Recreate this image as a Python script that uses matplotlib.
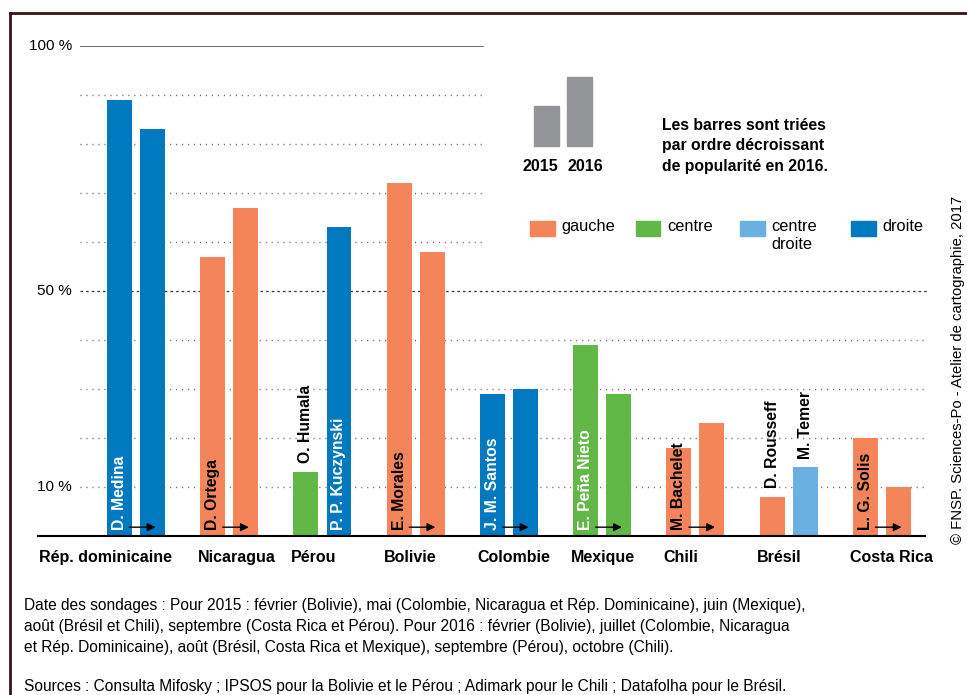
import matplotlib.pyplot as plt
from matplotlib.patches import Rectangle

plt.rcParams['font.family'] = ['Liberation Sans', 'DejaVu Sans']

# data (popularity in %)
countries = ['Rép. dominicaine', 'Nicaragua', 'Pérou', 'Bolivie', 'Colombie',
             'Mexique', 'Chili', 'Brésil', 'Costa Rica']
pop_2015 = [89, 57, 13, 72, 29, 39, 18, 8, 20]
pop_2016 = [83, 67, 63, 58, 30, 29, 23, 14, 10]
side_2015 = ['droite', 'gauche', 'centre', 'gauche', 'droite', 'centre', 'gauche', 'gauche', 'gauche']
side_2016 = ['droite', 'gauche', 'droite', 'gauche', 'droite', 'centre', 'gauche', 'centre droite', 'gauche']
# leader names: (text, which bar, inside/above)
leaders = [('D. Medina', 0, 'in'), ('D. Ortega', 0, 'in'), ('O. Humala', 0, 'above'),
           ('P. P. Kuczynski', 1, 'in'), ('E. Morales', 0, 'in'), ('J. M. Santos', 0, 'in'),
           ('E. Peña Nieto', 0, 'in'), ('M. Bachelet', 0, 'in'), ('D. Rousseff', 0, 'above'),
           ('M. Temer', 1, 'above'), ('L. G. Solis', 0, 'in')]
leader_country = [0, 1, 2, 2, 3, 4, 5, 6, 7, 7, 8]
same_leader = [True, True, False, True, True, True, True, False, True]

colors = {'gauche': '#F4845A', 'centre': '#62B847', 'centre droite': '#6AB0E0', 'droite': '#0079C1'}
text_on = {'gauche': 'black', 'centre': 'white', 'centre droite': 'black', 'droite': 'white'}

fig = plt.figure(figsize=(9.67, 6.95), dpi=100)

# frame (top and left edges only are visible)
fig.add_artist(plt.Line2D([10 / 967, 1], [1 - 13 / 695, 1 - 13 / 695], color='#3A1416', lw=2))
fig.add_artist(plt.Line2D([10 / 967, 10 / 967], [0, 1 - 13 / 695], color='#3A1416', lw=2))

ax = fig.add_axes([80 / 967, (695 - 536) / 695, 850 / 967, 490 / 695])
ax.set_xlim(-0.6005, 8.515)
ax.set_ylim(0, 100)
ax.axis('off')

# grid
trans = ax.get_yaxis_transform()
for v in [60, 70, 80, 90]:
    ax.plot([0, 0.474], [v, v], transform=trans, color='#666666', lw=1.0,
            ls=(0, (0.8, 3.5)), zorder=1)
for v in [10, 20, 30, 40]:
    ax.plot([0, 0.998], [v, v], transform=trans, color='#666666', lw=1.0,
            ls=(0, (0.8, 3.5)), zorder=1)
ax.plot([0, 0.998], [50, 50], transform=trans, color='#333333', lw=0.9,
        ls=(0, (2, 2.5)), zorder=1)
ax.plot([0, 0.474], [100, 100], transform=trans, color='#555555', lw=1.2, zorder=1)
ax.plot([-0.049, 0.994], [0, 0], transform=trans, color='black', lw=1.5, zorder=3, clip_on=False)

for v in [100, 50, 10]:
    ax.text(-0.0094, v, f'{v} %', transform=trans, ha='right', va='center', fontsize=11)

w = 0.268
off = 0.177
x = list(range(len(countries)))
ax.bar([i - off for i in x], pop_2015, width=w, color=[colors[s] for s in side_2015], zorder=2)
ax.bar([i + off for i in x], pop_2016, width=w, color=[colors[s] for s in side_2016], zorder=2)

# country names
for i, c in enumerate(countries):
    if i == 0:
        ax.text(i + off + w / 2 + 0.075, -4.3, c, ha='right', va='center', fontsize=11.5, fontweight='bold')
    else:
        ax.text(i - off - w / 2 - 0.03, -4.3, c, ha='left', va='center', fontsize=11.5, fontweight='bold')

# leader names
for (name, b, where), ci in zip(leaders, leader_country):
    xi = ci - off if b == 0 else ci + off
    side = side_2015[ci] if b == 0 else side_2016[ci]
    val = pop_2015[ci] if b == 0 else pop_2016[ci]
    if where == 'in':
        ax.text(xi, 1.2, name, rotation=90, ha='center', va='bottom', fontsize=11.3,
                fontweight='bold', color=text_on[side], zorder=4)
    else:
        ax.text(xi, val + 1.8, name, rotation=90, ha='center', va='bottom', fontsize=11.3,
                fontweight='bold', color='black', zorder=4)

# arrows when the leader stayed the same
for i, s in enumerate(same_leader):
    if s:
        ax.annotate('', xy=(i + 0.21, 1.8), xytext=(i - 0.07, 1.8),
                    arrowprops=dict(arrowstyle='-|>', color='black', lw=1.0,
                                    mutation_scale=12, shrinkA=0, shrinkB=0), zorder=5)

# legend: bar order sample
gx = 4.27
ax.add_patch(Rectangle((gx, 79.6), w, 8.2, color='#939598', clip_on=False))
ax.add_patch(Rectangle((gx + 2 * off, 79.6), w, 14.1, color='#939598', clip_on=False))
ax.text(gx + w / 2 - 0.07, 75.5, '2015', ha='center', va='center', fontsize=11.5, fontweight='bold')
ax.text(gx + 2 * off + w / 2 + 0.06, 75.5, '2016', ha='center', va='center', fontsize=11.5, fontweight='bold')
ax.text(5.64, 79.6, 'Les barres sont triées\npar ordre décroissant\nde popularité en 2016.',
        ha='left', va='center', fontsize=11.3, fontweight='bold', linespacing=1.42)

# legend: political side
leg_x = [4.23, 5.36, 6.48, 7.67]
leg_lab = ['gauche', 'centre', 'centre\ndroite', 'droite']
for lx, side, lab in zip(leg_x, ['gauche', 'centre', 'centre droite', 'droite'], leg_lab):
    ax.add_patch(Rectangle((lx, 61.2), 0.262, 3.1, color=colors[side], clip_on=False))
    ax.text(lx + 0.335, 64.6, lab, ha='left', va='top', fontsize=11.8, linespacing=1.2)

fig.text(958 / 967, 1 - 370 / 695, '© FNSP. Sciences-Po - Atelier de cartographie, 2017',
         rotation=90, ha='center', va='center', fontsize=10.7)

notes = ('Date des sondages : Pour 2015 : février (Bolivie), mai (Colombie, Nicaragua et Rép. Dominicaine), juin (Mexique),\n'
         'août (Brésil et Chili), septembre (Costa Rica et Pérou). Pour 2016 : février (Bolivie), juillet (Colombie, Nicaragua\n'
         'et Rép. Dominicaine), août (Brésil, Costa Rica et Mexique), septembre (Pérou), octobre (Chili).')
fig.text(24 / 967, 1 - 598 / 695, notes, ha='left', va='top', fontsize=11.2, linespacing=1.52)
fig.text(24 / 967, 1 - 687 / 695,
         'Sources : Consulta Mifosky ; IPSOS pour la Bolivie et le Pérou ; Adimark pour le Chili ; Datafolha pour le Brésil.',
         ha='left', va='center', fontsize=11.2)

fig.savefig('out.png', dpi=100)
